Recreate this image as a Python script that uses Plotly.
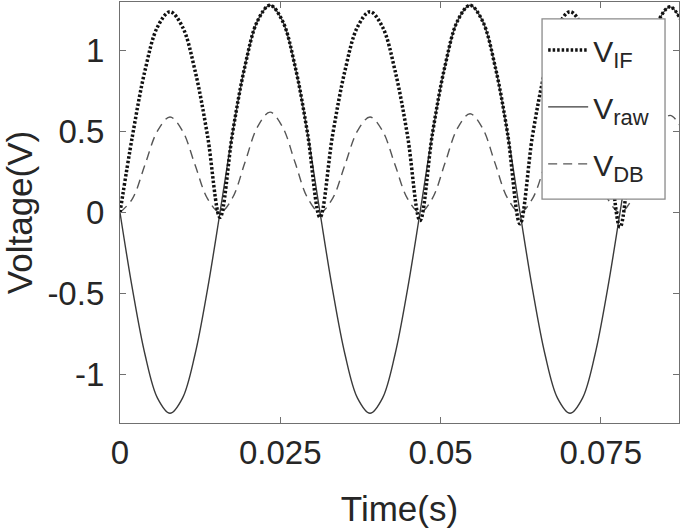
import plotly.graph_objects as go

# sample times (s), 8 samples per half cycle of the 32 Hz signal
t = [
    0.0, 0.00195, 0.0039, 0.00585, 0.0078, 0.00975, 0.0117, 0.01365, 0.0156,
    0.01755, 0.0195, 0.02145, 0.0234, 0.02535, 0.0273, 0.02925, 0.0312,
    0.03315, 0.0351, 0.03705, 0.039, 0.04095, 0.0429, 0.04485, 0.0468,
    0.04875, 0.0507, 0.05265, 0.0546, 0.05655, 0.0585, 0.06045, 0.0624,
    0.06435, 0.0663, 0.06825, 0.0702, 0.07215, 0.0741, 0.07605, 0.078,
    0.07995, 0.0819, 0.08385, 0.0858, 0.08775,
]

v_raw = [
    0.0, -0.475, -0.877, -1.146, -1.24, -1.146, -0.877, -0.475, 0.0,
    0.49, 0.905, 1.183, 1.28, 1.183, 0.905, 0.49, 0.0,
    -0.475, -0.877, -1.146, -1.24, -1.146, -0.877, -0.475, 0.0,
    0.49, 0.905, 1.183, 1.28, 1.183, 0.905, 0.49, 0.0,
    -0.475, -0.877, -1.146, -1.24, -1.146, -0.877, -0.475, 0.0,
    0.486, 0.898, 1.173, 1.27, 1.173,
]

v_if = [
    0.0, 0.475, 0.877, 1.146, 1.24, 1.146, 0.877, 0.475, -0.03,
    0.49, 0.905, 1.183, 1.28, 1.183, 0.905, 0.49, -0.03,
    0.475, 0.877, 1.146, 1.24, 1.146, 0.877, 0.475, -0.05,
    0.49, 0.905, 1.183, 1.28, 1.183, 0.905, 0.49, -0.07,
    0.475, 0.877, 1.146, 1.24, 1.146, 0.877, 0.475, -0.09,
    0.486, 0.898, 1.173, 1.27, 1.173,
]

v_db = [
    0.0, 0.086, 0.295, 0.504, 0.59, 0.504, 0.295, 0.086, 0.0,
    0.091, 0.31, 0.529, 0.62, 0.529, 0.31, 0.091, 0.0,
    0.086, 0.295, 0.504, 0.59, 0.504, 0.295, 0.086, 0.0,
    0.089, 0.305, 0.521, 0.61, 0.521, 0.305, 0.089, 0.0,
    0.086, 0.295, 0.504, 0.59, 0.504, 0.295, 0.086, 0.0,
    0.088, 0.3, 0.512, 0.6, 0.512,
]

x_ticks = [0, 0.025, 0.05, 0.075]
x_ticktext = ["0", "0.025", "0.05", "0.075"]
y_ticks = [-1, -0.5, 0, 0.5, 1]
y_ticktext = ["-1", "-0.5", "0", "0.5", "1"]

FONT = "Liberation Sans, Arial, sans-serif"
TXT = "#262626"
AXIS = "#707070"


def legend_name(sub):
    # bigger subscript than plotly's default 70%
    return f"V<sub><span style='font-size:22px'>{sub}</span></sub>"


fig = go.Figure()

fig.add_trace(go.Scatter(
    x=t, y=v_raw, mode="lines", name=legend_name("raw"),
    line=dict(color="#3a3a3a", width=1.4, shape="spline"),
    legendrank=2, legendgroup="raw",
))
fig.add_trace(go.Scatter(
    x=t, y=v_db, mode="lines", name=legend_name("DB"),
    line=dict(color="#555555", width=1.4, dash="9px,6px", shape="spline"),
    legendrank=3, legendgroup="db",
))
fig.add_trace(go.Scatter(
    x=t, y=v_if, mode="lines", name=legend_name("IF"),
    line=dict(color="#111111", width=3.5, dash="2.5px,2px", shape="spline"),
    legendrank=1, legendgroup="if",
))

axis_style = dict(
    showgrid=False, zeroline=False, automargin=False,
    showline=True, linecolor=AXIS, linewidth=1.3, mirror="ticks",
    ticks="inside", ticklen=6, tickcolor=AXIS, tickwidth=1.2,
    tickfont=dict(family=FONT, size=33, color=TXT),
)

fig.update_xaxes(
    range=[0, 0.0872], tickvals=x_ticks, ticktext=x_ticktext,
    ticklabelstandoff=0,
    title=dict(text="Time(s)", font=dict(family=FONT, size=35, color=TXT), standoff=26),
    **axis_style,
)
fig.update_yaxes(
    range=[-1.3, 1.3], tickvals=y_ticks, ticktext=y_ticktext,
    ticklabelstandoff=8,
    title=dict(text="Voltage(V)", font=dict(family=FONT, size=35, color=TXT), standoff=24),
    **axis_style,
)

# legend frame drawn behind the (transparent) legend
fig.add_shape(
    type="rect", xref="paper", yref="paper",
    x0=0.755, x1=0.975, y0=0.532, y1=0.96,
    fillcolor="white", line=dict(color="#8a8a8a", width=1.3), layer="above",
)

fig.update_layout(
    width=685, height=531,
    margin=dict(l=120, r=6, t=2, b=108),
    paper_bgcolor="white", plot_bgcolor="white",
    showlegend=True,
    legend=dict(
        x=0.757, y=0.948, xanchor="left", yanchor="top",
        bgcolor="rgba(0,0,0,0)", borderwidth=0,
        font=dict(family=FONT, size=30, color=TXT),
        itemwidth=40, tracegroupgap=15,
    ),
)

fig.write_html(
    "out.html",
    config={"displayModeBar": False},
    post_script="document.body.style.margin='0';",
)
